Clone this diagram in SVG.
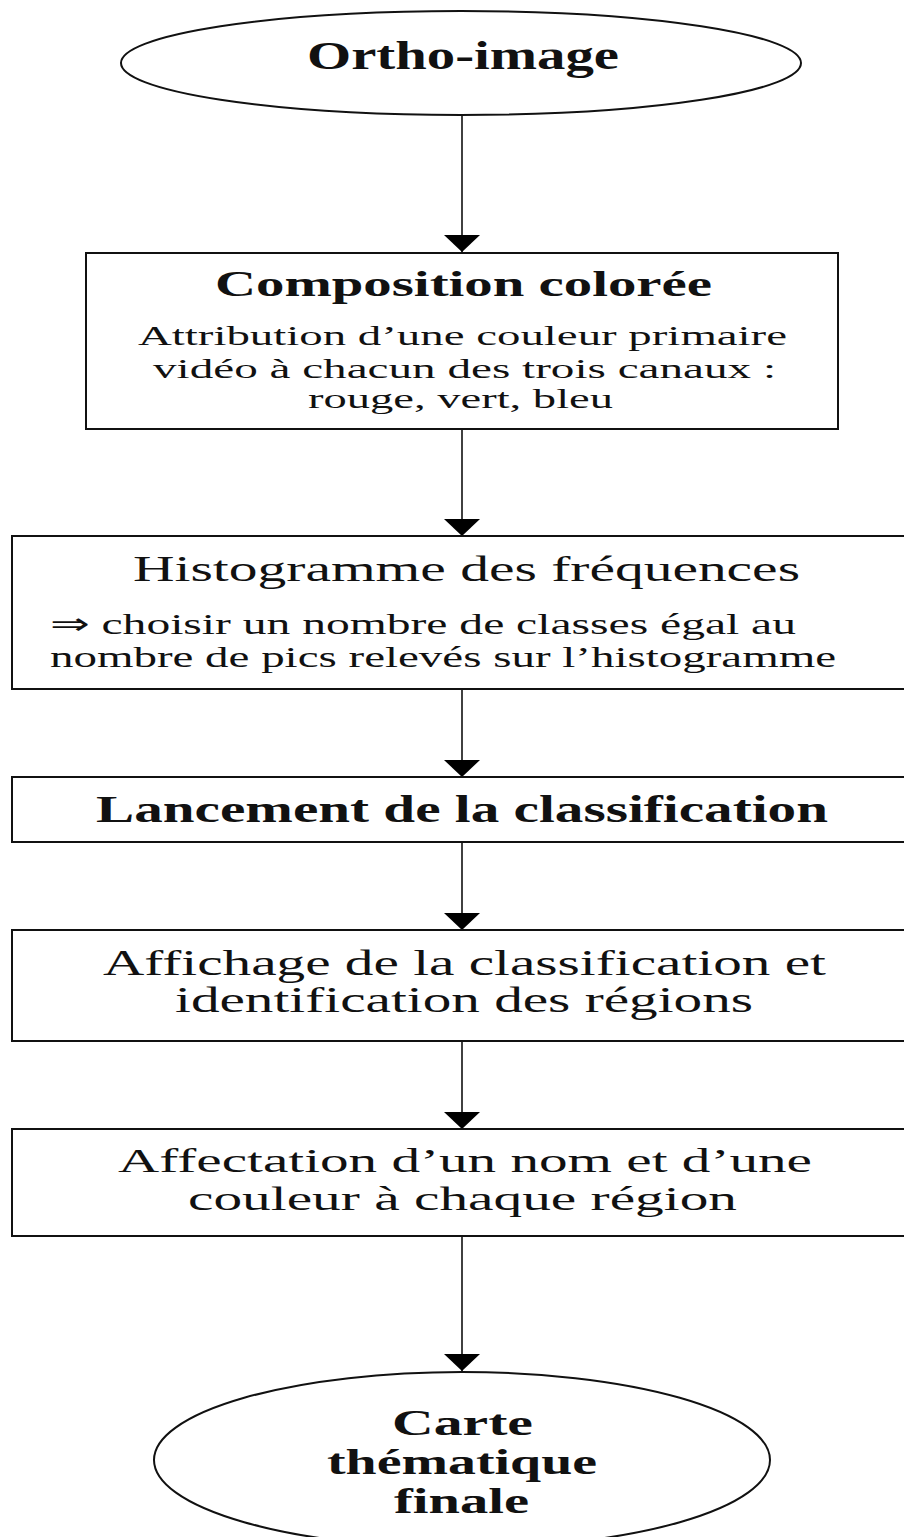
<svg xmlns="http://www.w3.org/2000/svg" width="904" height="1537" viewBox="0 0 904 1537">
  <style>
    .shape { fill: #ffffff; stroke: #111111; stroke-width: 2; }
    .link { stroke: #111111; stroke-width: 1.6; fill: none; marker-end: url(#head); }
    text { font-family: "Liberation Serif", "Times New Roman", serif; fill: #111111; }
    .b { font-weight: bold; }
  </style>
  <defs>
    <marker id="head" viewBox="0 0 17 36" refX="17" refY="18" markerWidth="17" markerHeight="36" markerUnits="userSpaceOnUse" orient="auto">
      <path d="M0,0 L17,18 L0,36 Z" fill="#000000"/>
    </marker>
  </defs>
  <rect x="0" y="0" width="904" height="1537" fill="#ffffff"/>

  <g id="connectors">
    <line class="link" x1="462" y1="116" x2="462" y2="252"/>
    <line class="link" x1="462" y1="429" x2="462" y2="536"/>
    <line class="link" x1="462" y1="689" x2="462" y2="777"/>
    <line class="link" x1="462" y1="842" x2="462" y2="930"/>
    <line class="link" x1="462" y1="1041" x2="462" y2="1129"/>
    <line class="link" x1="462" y1="1236" x2="462" y2="1371"/>
  </g>

  <g id="ortho-image">
    <ellipse class="shape" cx="461" cy="63" rx="340" ry="52"/>
    <text class="b" x="307" y="69" font-size="39" textLength="312" lengthAdjust="spacingAndGlyphs">Ortho-image</text>
  </g>

  <g id="composition">
    <rect class="shape" x="86" y="253" width="752" height="176"/>
    <text class="b" x="215" y="296" font-size="36" textLength="497" lengthAdjust="spacingAndGlyphs">Composition colorée</text>
    <text x="138" y="345" font-size="28" textLength="649" lengthAdjust="spacingAndGlyphs">Attribution d’une couleur primaire</text>
    <text x="153" y="378" font-size="28" textLength="623" lengthAdjust="spacingAndGlyphs">vidéo à chacun des trois canaux :</text>
    <text x="308" y="408" font-size="28" textLength="305" lengthAdjust="spacingAndGlyphs">rouge, vert, bleu</text>
  </g>

  <g id="histogramme">
    <rect class="shape" x="12" y="536" width="900" height="153"/>
    <text x="133" y="581" font-size="35" textLength="667" lengthAdjust="spacingAndGlyphs">Histogramme des fréquences</text>
    <text x="50" y="634" font-size="30" textLength="746" lengthAdjust="spacingAndGlyphs">⇒ choisir un nombre de classes égal au</text>
    <text x="50" y="667" font-size="30" textLength="786" lengthAdjust="spacingAndGlyphs">nombre de pics relevés sur l’histogramme</text>
  </g>

  <g id="lancement">
    <rect class="shape" x="12" y="777" width="900" height="65"/>
    <text class="b" x="96" y="822" font-size="37" textLength="732" lengthAdjust="spacingAndGlyphs">Lancement de la classification</text>
  </g>

  <g id="affichage">
    <rect class="shape" x="12" y="930" width="900" height="111"/>
    <text x="103" y="975" font-size="35" textLength="723" lengthAdjust="spacingAndGlyphs">Affichage de la classification et</text>
    <text x="175" y="1012" font-size="35" textLength="578" lengthAdjust="spacingAndGlyphs">identification des régions</text>
  </g>

  <g id="affectation">
    <rect class="shape" x="12" y="1129" width="900" height="107"/>
    <text x="118" y="1172" font-size="33" textLength="694" lengthAdjust="spacingAndGlyphs">Affectation d’un nom et d’une</text>
    <text x="188" y="1210" font-size="33" textLength="549" lengthAdjust="spacingAndGlyphs">couleur à chaque région</text>
  </g>

  <g id="carte-finale">
    <ellipse class="shape" cx="462" cy="1460" rx="308" ry="88"/>
    <text class="b" x="392" y="1435" font-size="35" textLength="141" lengthAdjust="spacingAndGlyphs">Carte</text>
    <text class="b" x="327" y="1474" font-size="35" textLength="270" lengthAdjust="spacingAndGlyphs">thématique</text>
    <text class="b" x="394" y="1513" font-size="35" textLength="135" lengthAdjust="spacingAndGlyphs">finale</text>
  </g>
</svg>
